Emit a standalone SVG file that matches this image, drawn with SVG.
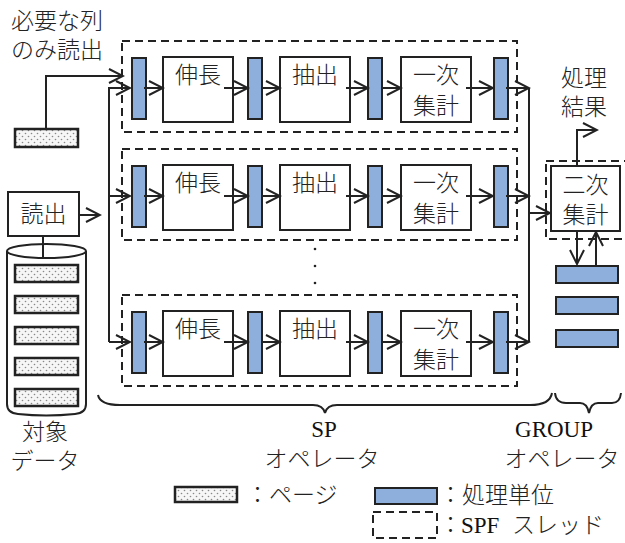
<svg xmlns="http://www.w3.org/2000/svg" width="625" height="543" viewBox="0 0 625 543">
<style>
.jp{font-family:"Noto Sans CJK JP","Noto Sans",sans-serif;font-size:23px;font-weight:300;fill:#222}
.lat{font-family:"Liberation Serif",serif;font-size:23px;font-weight:normal;fill:#111}
.box{fill:#fff;stroke:#222;stroke-width:2}
.buf{fill:#8eaedb;stroke:#222;stroke-width:2}
.dash{fill:none;stroke:#222;stroke-width:2;stroke-dasharray:8 5}
.page{fill:url(#dots);stroke:#222;stroke-width:2.5}
.ln{fill:none;stroke:#222;stroke-width:2}
.arr{fill:none;stroke:#222;stroke-width:2;marker-end:url(#ah)}
</style>
<defs>
<pattern id="dots" width="6" height="6" patternUnits="userSpaceOnUse">
<rect width="6" height="6" fill="#f6f6f6"/>
<circle cx="1.5" cy="1.5" r="0.8" fill="#888"/>
<circle cx="4.5" cy="4.5" r="0.8" fill="#888"/>
</pattern>
<marker id="ah" markerUnits="userSpaceOnUse" viewBox="-16 -10 18 20" refX="0" refY="0" markerWidth="18" markerHeight="20" orient="auto">
<path d="M-14,-7 L0,0 L-14,7" fill="none" stroke="#222" stroke-width="2"/>
</marker>
<g id="rowtpl">
<rect class="dash" x="122" y="0" width="395" height="91"/>
<rect class="buf" x="132" y="17" width="14" height="61"/>
<rect class="box" x="163" y="16" width="70" height="65"/>
<rect class="buf" x="248" y="17" width="14" height="61"/>
<rect class="box" x="280" y="16" width="70" height="65"/>
<rect class="buf" x="368" y="17" width="14" height="61"/>
<rect class="box" x="401" y="16" width="70" height="65"/>
<rect class="buf" x="494" y="17" width="14" height="61"/>
<text class="jp" x="198" y="42" text-anchor="middle">伸長</text>
<text class="jp" x="315" y="42" text-anchor="middle">抽出</text>
<text class="jp" x="436" y="42" text-anchor="middle">一次</text>
<text class="jp" x="436" y="73" text-anchor="middle">集計</text>
<path class="arr" d="M144,47 H163"/>
<path class="arr" d="M224,47 H248"/>
<path class="arr" d="M261,47 H280"/>
<path class="arr" d="M346,47 H368"/>
<path class="arr" d="M381,47 H401"/>
<path class="arr" d="M466,47 H493"/>
<path class="arr" d="M506,47 H529"/>
</g>
</defs>

<g id="labels-top">
<text class="jp" x="11" y="29">必要な列</text>
<text class="jp" x="11" y="58">のみ読出</text>
</g>

<g id="sp-thread-1"><use href="#rowtpl" x="0" y="41"/></g>
<g id="sp-thread-2"><use href="#rowtpl" x="0" y="149"/></g>
<g id="sp-thread-3"><use href="#rowtpl" x="0" y="295"/></g>

<g id="ellipsis">
<circle cx="315" cy="249" r="1.3" fill="#222"/>
<circle cx="315" cy="266" r="1.3" fill="#222"/>
<circle cx="315" cy="283" r="1.3" fill="#222"/>
</g>

<g id="page-input">
<rect class="page" x="15" y="129" width="63" height="18"/>
</g>

<g id="read-box">
<rect class="box" x="8" y="192" width="71" height="44"/>
<text class="jp" x="43.5" y="222" text-anchor="middle">読出</text>
</g>

<g id="target-data">
<path class="ln" d="M7,251 V404 Q7,413 18,414 Q46,417 75,414 Q86,413 86,404 V251" fill="#fff"/>
<ellipse cx="46.5" cy="251" rx="39.5" ry="7" fill="#fff" stroke="#222" stroke-width="2"/>
<rect class="page" x="15" y="265" width="63" height="17"/>
<rect class="page" x="15" y="296" width="63" height="17"/>
<rect class="page" x="15" y="327" width="63" height="17"/>
<rect class="page" x="15" y="358" width="63" height="17"/>
<rect class="page" x="15" y="389" width="63" height="17"/>
<text class="jp" x="45" y="440" text-anchor="middle">対象</text>
<text class="jp" x="45" y="469" text-anchor="middle">データ</text>
</g>

<g id="group-op">
<rect class="dash" x="546" y="161" width="90" height="78"/>
<rect class="box" x="551" y="166" width="69" height="65"/>
<text class="jp" x="585.5" y="193" text-anchor="middle">二次</text>
<text class="jp" x="585.5" y="223" text-anchor="middle">集計</text>
<text class="jp" x="584" y="86" text-anchor="middle">処理</text>
<text class="jp" x="584" y="115" text-anchor="middle">結果</text>
<rect class="buf" x="556" y="266" width="62" height="17"/>
<rect class="buf" x="556" y="297" width="62" height="17"/>
<rect class="buf" x="556" y="330" width="62" height="17"/>
</g>

<g id="connectors">
<path class="arr" d="M46,129 V76 H123"/>
<path class="arr" d="M109,342 V88 H130"/>
<path class="arr" d="M109,196 H130"/>
<path class="arr" d="M109,342 H130"/>
<path class="ln" d="M43,236 V258"/>
<path class="arr" d="M79,215 H100"/>
<path class="ln" d="M529,88 V342"/>
<path class="arr" d="M529,213 H550"/>
<path class="arr" d="M577,166 V130 H597"/>
<path class="arr" d="M577,231 V264"/>
<path class="arr" d="M596,266 V232"/>
</g>

<g id="braces">
<path class="ln" d="M98,395 Q100,405 120,405 L313,405 Q323,405 325,413 Q327,405 337,405 L530,405 Q550,405 552,393"/>
<path class="ln" d="M555,393 Q556,403 566,403 L580,403 Q587,403 589,413 Q591,403 598,403 L612,403 Q620,403 621,393"/>
<text class="lat" x="324" y="437" text-anchor="middle">SP</text>
<text class="jp" x="322" y="467" text-anchor="middle">オペレータ</text>
<text class="lat" x="554" y="437" text-anchor="middle">GROUP</text>
<text class="jp" x="562" y="467" text-anchor="middle">オペレータ</text>
</g>

<g id="legend">
<rect class="page" x="175" y="487" width="62" height="15"/>
<text class="jp" x="246" y="503">：ページ</text>
<rect class="buf" x="375" y="488" width="62" height="16"/>
<text class="jp" x="439" y="503">：処理単位</text>
<rect class="dash" x="373" y="512" width="64" height="26"/>
<text class="jp" x="439" y="533">：<tspan class="lat" x="461">SPF</tspan><tspan x="512">スレッド</tspan></text>
</g>
</svg>
